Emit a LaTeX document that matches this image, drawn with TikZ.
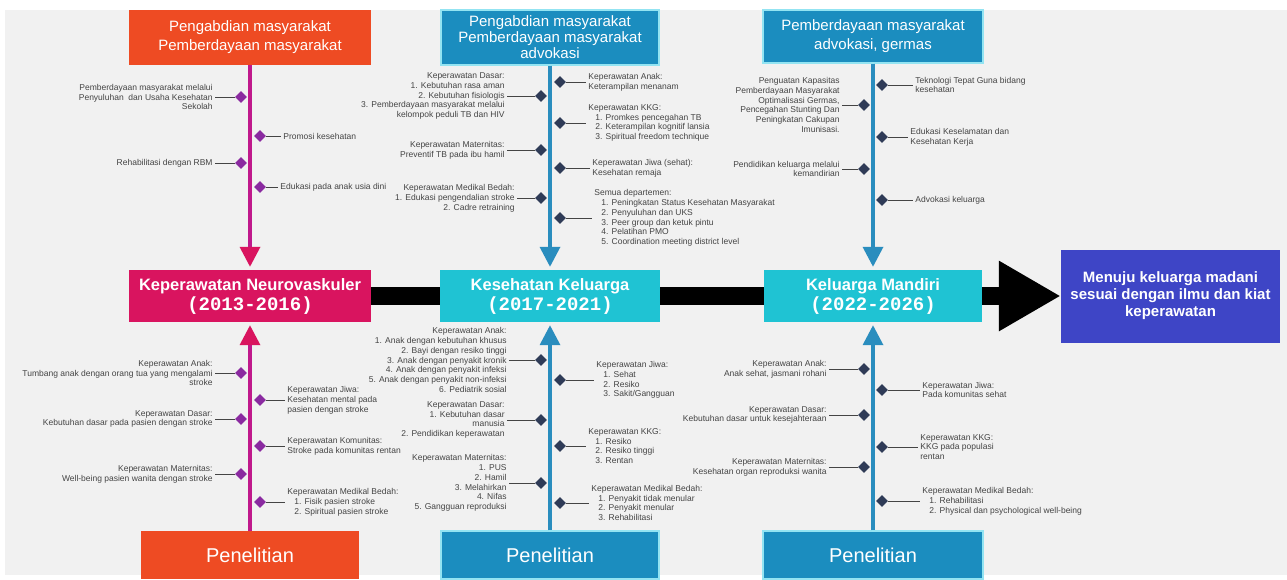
\documentclass[tikz,border=0pt]{standalone}
\usepackage{fontspec}
\setmainfont{Liberation Sans}
\setmonofont{Liberation Mono}
\usepackage{tikz}
\usetikzlibrary{arrows.meta,positioning,shapes.geometric}

\definecolor{bgGray}{HTML}{F1F1F1}
\definecolor{orangeHead}{HTML}{EE4B23}
\definecolor{blueHead}{HTML}{1B8DBF}
\definecolor{blueEdge}{HTML}{93E4F2}
\definecolor{crimsonBox}{HTML}{D9145F}
\definecolor{cyanBox}{HTML}{1FC3D3}
\definecolor{goalBlue}{HTML}{3E45C6}
\definecolor{spineMag}{HTML}{C0198C}
\definecolor{spineBlue}{HTML}{2A8DBE}
\definecolor{dmdPurple}{HTML}{8A2AA0}
\definecolor{dmdNavy}{HTML}{2F3B57}
\definecolor{txtGray}{HTML}{444444}

\newcommand{\indnum}{\hspace*{7pt}}

\begin{document}
\begin{tikzpicture}[x=1pt,y=-1pt,
  headbox/.style={text=white, align=center, inner sep=0pt, font=\fontsize{15}{19}\selectfont},
  stagebox/.style={text=white, align=center, inner sep=0pt, minimum height=52pt, font=\bfseries\fontsize{16.5}{20}\selectfont},
  risetbox/.style={text=white, inner sep=0pt, minimum height=48pt, font=\fontsize{20}{22}\selectfont},
  dmdP/.style={diamond, fill=dmdPurple, minimum size=12pt, inner sep=0pt},
  dmdN/.style={diamond, fill=dmdNavy, minimum size=12pt, inner sep=0pt},
  itemL/.style={align=right, inner sep=2pt, text=txtGray, font=\fontsize{8.5}{9.8}\selectfont},
  itemR/.style={align=left, inner sep=2pt, text=txtGray, font=\fontsize{8.5}{9.8}\selectfont},
  link/.style={draw=txtGray, line width=0.8pt},
  spineL/.style={draw=spineMag, line width=3.5pt},
  spineB/.style={draw=spineBlue, line width=3.5pt},
  bar/.style={draw=black, line width=18pt}]
\useasboundingbox (0,0) rectangle (1287,579);
\fill[bgGray] (5,10) rectangle (1287,575);

% boxes on top
\node[headbox, fill=orangeHead, minimum width=242pt, minimum height=55pt] (abdiL) at (250,37.5) {Pengabdian masyarakat\\Pemberdayaan masyarakat};
\node[headbox, fill=blueHead, draw=blueEdge, line width=1.2pt, minimum width=218pt, minimum height=55pt, font=\fontsize{15}{16}\selectfont] (abdiM) at (550,37.5) {Pengabdian masyarakat\\Pemberdayaan masyarakat\\advokasi};
\node[headbox, fill=blueHead, draw=blueEdge, line width=1.2pt, minimum width=220pt, minimum height=53pt] (abdiR) at (873,36.5) {Pemberdayaan masyarakat\\advokasi, germas};

% timeline
\node[stagebox, fill=crimsonBox, minimum width=242pt] (neuro) at (250,296) {Keperawatan Neurovaskuler\\{\ttfamily\fontsize{19}{22}\selectfont (2013-2016)}};
\node[stagebox, fill=cyanBox, minimum width=220pt] (kesga) at (550,296) {Kesehatan Keluarga\\{\ttfamily\fontsize{19}{22}\selectfont (2017-2021)}};
\node[stagebox, fill=cyanBox, minimum width=218pt] (mandiri) at (873,296) {Keluarga Mandiri\\{\ttfamily\fontsize{19}{22}\selectfont (2022-2026)}};
\node[stagebox, fill=goalBlue, minimum width=219pt, minimum height=93pt, font=\bfseries\fontsize{15}{17}\selectfont] (goal) at (1170.5,296) {Menuju keluarga madani\\sesuai dengan ilmu dan kiat\\keperawatan};

% boxes at the bottom
\node[risetbox, fill=orangeHead, minimum width=218pt] (risetL) at (250,555) {Penelitian};
\node[risetbox, fill=blueHead, draw=blueEdge, line width=1.2pt, minimum width=218pt] (risetM) at (550,555) {Penelitian};
\node[risetbox, fill=blueHead, draw=blueEdge, line width=1.2pt, minimum width=220pt] (risetR) at (873,555) {Penelitian};

% spines
\draw[spineL, -{Triangle[width=20pt,length=20pt,color=crimsonBox]}, shorten >=3pt] (abdiL) -- (neuro);
\draw[spineL, -{Triangle[width=20pt,length=20pt,color=crimsonBox]}, shorten >=3pt] (risetL) -- (neuro);
\draw[spineB, -{Triangle[width=20pt,length=20pt]}, shorten >=3pt] (abdiM) -- (kesga);
\draw[spineB, -{Triangle[width=20pt,length=20pt]}, shorten >=3pt] (risetM) -- (kesga);
\draw[spineB, -{Triangle[width=20pt,length=20pt]}, shorten >=3pt] (abdiR) -- (mandiri);
\draw[spineB, -{Triangle[width=20pt,length=20pt]}, shorten >=3pt] (risetR) -- (mandiri);

\draw[bar] (neuro) -- (kesga);
\draw[bar] (kesga) -- (mandiri);
\draw[bar, -{Triangle[width=66pt,length=62pt]}] (mandiri) -- (goal);

% neurovaskuler, top
\node[dmdP] (nvT1) at (241,97) {};
\node[itemL, left=20pt of nvT1] (nvT1x) {Pemberdayaan masyarakat melalui\\Penyuluhan \ dan Usaha Kesehatan\\Sekolah};
\draw[link] (nvT1) -- (nvT1x);
\node[dmdP] (nvT2) at (260,136) {};
\node[itemR, right=15pt of nvT2] (nvT2x) {Promosi kesehatan};
\draw[link] (nvT2) -- (nvT2x);
\node[dmdP] (nvT3) at (241,163) {};
\node[itemL, left=20pt of nvT3] (nvT3x) {Rehabilitasi dengan RBM};
\draw[link] (nvT3) -- (nvT3x);
\node[dmdP] (nvT4) at (260,187) {};
\node[itemR, right=12pt of nvT4] (nvT4x) {Edukasi pada anak usia dini};
\draw[link] (nvT4) -- (nvT4x);

% neurovaskuler, bottom
\node[dmdP] (nvB1) at (241,373) {};
\node[itemL, left=20pt of nvB1] (nvB1x) {Keperawatan Anak:\\Tumbang anak dengan orang tua yang mengalami\\stroke};
\draw[link] (nvB1) -- (nvB1x);
\node[dmdP] (nvB2) at (260,400) {};
\node[itemR, right=19pt of nvB2] (nvB2x) {Keperawatan Jiwa:\\Kesehatan mental pada\\pasien dengan stroke};
\draw[link] (nvB2) -- (nvB2x);
\node[dmdP] (nvB3) at (241,419) {};
\node[itemL, left=20pt of nvB3] (nvB3x) {Keperawatan Dasar:\\Kebutuhan dasar pada pasien dengan stroke};
\draw[link] (nvB3) -- (nvB3x);
\node[dmdP] (nvB4) at (260,446) {};
\node[itemR, right=19pt of nvB4] (nvB4x) {Keperawatan Komunitas:\\Stroke pada komunitas rentan};
\draw[link] (nvB4) -- (nvB4x);
\node[dmdP] (nvB5) at (241,474) {};
\node[itemL, left=20pt of nvB5] (nvB5x) {Keperawatan Maternitas:\\Well-being pasien wanita dengan stroke};
\draw[link] (nvB5) -- (nvB5x);
\node[dmdP] (nvB6) at (260,502) {};
\node[itemR, right=19pt of nvB6] (nvB6x) {Keperawatan Medikal Bedah:\\\indnum1. Fisik pasien stroke\\\indnum2. Spiritual pasien stroke};
\draw[link] (nvB6) -- (nvB6x);

% kesehatan keluarga, top
\node[dmdN] (kkT1) at (541,96) {};
\node[itemL, left=28pt of kkT1] (kkT1x) {Keperawatan Dasar:\\1. Kebutuhan rasa aman\\2. Kebutuhan fisiologis\\3. Pemberdayaan masyarakat melalui\\kelompok peduli TB dan HIV};
\draw[link] (kkT1) -- (kkT1x);
\node[dmdN] (kkT2) at (560,82) {};
\node[itemR, right=20pt of kkT2] (kkT2x) {Keperawatan Anak:\\Keterampilan menanam};
\draw[link] (kkT2) -- (kkT2x);
\node[dmdN] (kkT3) at (560,123) {};
\node[itemR, right=20pt of kkT3] (kkT3x) {Keperawatan KKG:\\\indnum1. Promkes pencegahan TB\\\indnum2. Keterampilan kognitif lansia\\\indnum3. Spiritual freedom technique};
\draw[link] (kkT3) -- (kkT3x);
\node[dmdN] (kkT4) at (541,150) {};
\node[itemL, left=28pt of kkT4] (kkT4x) {Keperawatan Maternitas:\\Preventif TB pada ibu hamil};
\draw[link] (kkT4) -- (kkT4x);
\node[dmdN] (kkT5) at (560,168) {};
\node[itemR, right=24pt of kkT5] (kkT5x) {Keperawatan Jiwa (sehat):\\Kesehatan remaja};
\draw[link] (kkT5) -- (kkT5x);
\node[dmdN] (kkT6) at (541,198) {};
\node[itemL, left=18pt of kkT6] (kkT6x) {Keperawatan Medikal Bedah:\\1. Edukasi pengendalian stroke\\2. Cadre retraining};
\draw[link] (kkT6) -- (kkT6x);
\node[dmdN] (kkT7) at (560,218) {};
\node[itemR, right=26pt of kkT7] (kkT7x) {Semua departemen:\\\indnum1. Peningkatan Status Kesehatan Masyarakat\\\indnum2. Penyuluhan dan UKS\\\indnum3. Peer group dan ketuk pintu\\\indnum4. Pelatihan PMO\\\indnum5. Coordination meeting district level};
\draw[link] (kkT7) -- (kkT7x);

% kesehatan keluarga, bottom
\node[dmdN] (kkB1) at (541,360) {};
\node[itemL, left=26pt of kkB1] (kkB1x) {Keperawatan Anak:\\1. Anak dengan kebutuhan khusus\\2. Bayi dengan resiko tinggi\\3. Anak dengan penyakit kronik\\4. Anak dengan penyakit infeksi\\5. Anak dengan penyakit non-infeksi\\6. Pediatrik sosial};
\draw[link] (kkB1) -- (kkB1x);
\node[dmdN] (kkB2) at (560,380) {};
\node[itemR, right=28pt of kkB2] (kkB2x) {Keperawatan Jiwa:\\\indnum1. Sehat\\\indnum2. Resiko\\\indnum3. Sakit/Gangguan};
\draw[link] (kkB2) -- (kkB2x);
\node[dmdN] (kkB3) at (541,420) {};
\node[itemL, left=28pt of kkB3] (kkB3x) {Keperawatan Dasar:\\1. Kebutuhan dasar\\manusia\\2. Pendidikan keperawatan};
\draw[link] (kkB3) -- (kkB3x);
\node[dmdN] (kkB4) at (560,446) {};
\node[itemR, right=20pt of kkB4] (kkB4x) {Keperawatan KKG:\\\indnum1. Resiko\\\indnum2. Resiko tinggi\\\indnum3. Rentan};
\draw[link] (kkB4) -- (kkB4x);
\node[dmdN] (kkB5) at (541,483) {};
\node[itemL, left=26pt of kkB5] (kkB5x) {Keperawatan Maternitas:\\1. PUS\\2. Hamil\\3. Melahirkan\\4. Nifas\\5. Gangguan reproduksi};
\draw[link] (kkB5) -- (kkB5x);
\node[dmdN] (kkB6) at (560,503) {};
\node[itemR, right=23pt of kkB6] (kkB6x) {Keperawatan Medikal Bedah:\\\indnum1. Penyakit tidak menular\\\indnum2. Penyakit menular\\\indnum3. Rehabilitasi};
\draw[link] (kkB6) -- (kkB6x);

% keluarga mandiri, top
\node[dmdN] (kmT1) at (882,85) {};
\node[itemR, right=25pt of kmT1] (kmT1x) {Teknologi Tepat Guna bidang\\kesehatan};
\draw[link] (kmT1) -- (kmT1x);
\node[dmdN] (kmT2) at (864,105) {};
\node[itemL, left=16pt of kmT2] (kmT2x) {Penguatan Kapasitas\\Pemberdayaan Masyarakat\\Optimalisasi Germas,\\Pencegahan Stunting Dan\\Peningkatan Cakupan\\Imunisasi.};
\draw[link] (kmT2) -- (kmT2x);
\node[dmdN] (kmT3) at (882,137) {};
\node[itemR, right=20pt of kmT3] (kmT3x) {Edukasi Keselamatan dan\\Kesehatan Kerja};
\draw[link] (kmT3) -- (kmT3x);
\node[dmdN] (kmT4) at (864,169) {};
\node[itemL, left=16pt of kmT4] (kmT4x) {Pendidikan keluarga melalui\\kemandirian};
\draw[link] (kmT4) -- (kmT4x);
\node[dmdN] (kmT5) at (882,200) {};
\node[itemR, right=25pt of kmT5] (kmT5x) {Advokasi keluarga};
\draw[link] (kmT5) -- (kmT5x);

% keluarga mandiri, bottom
\node[dmdN] (kmB1) at (864,369) {};
\node[itemL, left=29pt of kmB1] (kmB1x) {Keperawatan Anak:\\Anak sehat, jasmani rohani};
\draw[link] (kmB1) -- (kmB1x);
\node[dmdN] (kmB2) at (882,390) {};
\node[itemR, right=32pt of kmB2] (kmB2x) {Keperawatan Jiwa:\\Pada komunitas sehat};
\draw[link] (kmB2) -- (kmB2x);
\node[dmdN] (kmB3) at (864,415) {};
\node[itemL, left=29pt of kmB3] (kmB3x) {Keperawatan Dasar:\\Kebutuhan dasar untuk kesejahteraan};
\draw[link] (kmB3) -- (kmB3x);
\node[dmdN] (kmB4) at (882,447) {};
\node[itemR, right=30pt of kmB4] (kmB4x) {Keperawatan KKG:\\KKG pada populasi\\rentan};
\draw[link] (kmB4) -- (kmB4x);
\node[dmdN] (kmB5) at (864,467) {};
\node[itemL, left=29pt of kmB5] (kmB5x) {Keperawatan Maternitas:\\Kesehatan organ reproduksi wanita};
\draw[link] (kmB5) -- (kmB5x);
\node[dmdN] (kmB6) at (882,501) {};
\node[itemR, right=32pt of kmB6] (kmB6x) {Keperawatan Medikal Bedah:\\\indnum1. Rehabilitasi\\\indnum2. Physical dan psychological well-being};
\draw[link] (kmB6) -- (kmB6x);
\end{tikzpicture}
\end{document}
